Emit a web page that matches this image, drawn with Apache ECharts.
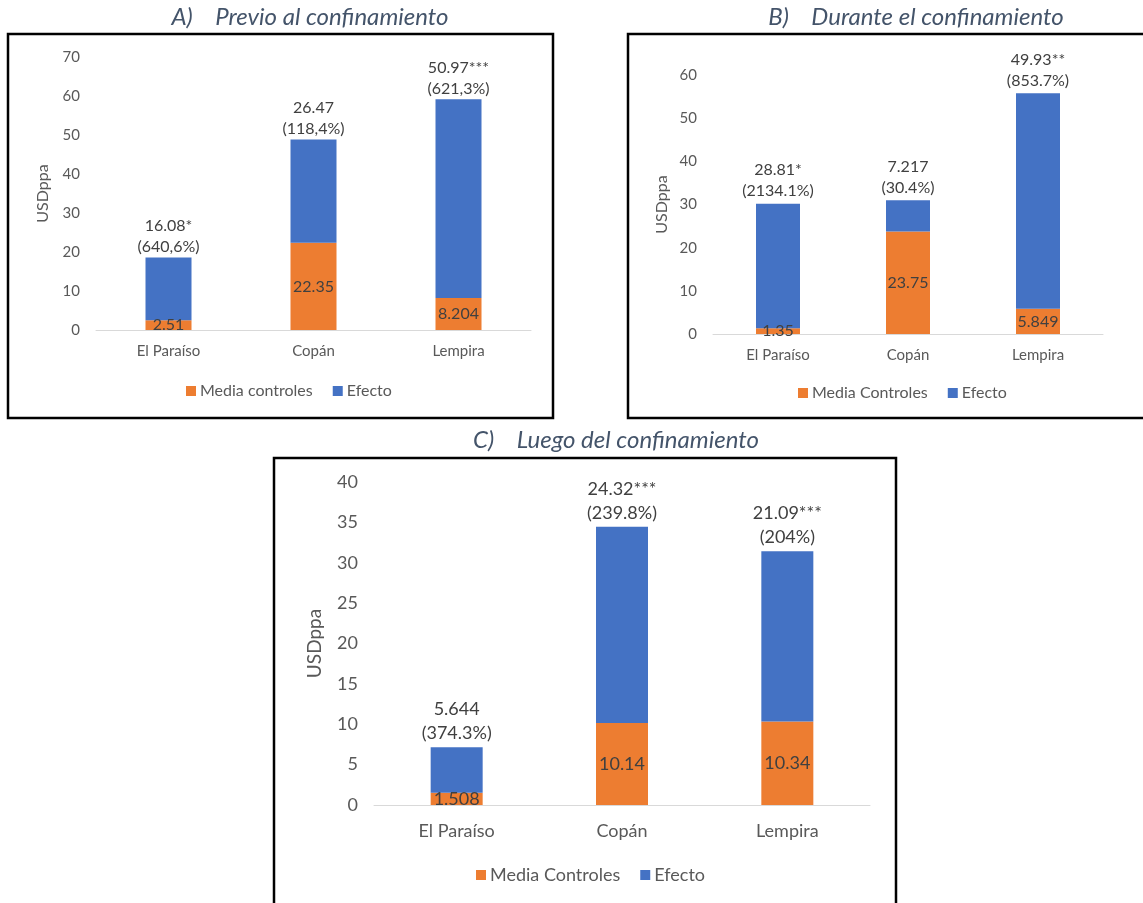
<!DOCTYPE html>
<html>
<head>
<meta charset="utf-8">
<script src="https://cdn.jsdelivr.net/npm/echarts@6/dist/echarts.min.js"></script>
<style>
  html, body { margin: 0; padding: 0; background: #ffffff; }
  #chart { width: 1143px; height: 903px; }
</style>
</head>
<body>
<div id="chart"></div>
<script>
// ---- Data ----
const categories = ['El Paraíso', 'Copán', 'Lempira'];

const titleA = 'A)    Previo al confinamiento';
const titleB = 'B)    Durante el confinamiento';
const titleC = 'C)    Luego del confinamiento';

const legendControlA = 'Media controles';
const legendControlBC = 'Media Controles';
const legendEffect = 'Efecto';
const yAxisName = 'USDppa';

const controlA = [2.51, 22.35, 8.204];
const effectA = [16.08, 26.47, 50.97];
const starsA = ['*', '', '***'];
const pctA = ['640,6%', '118,4%', '621,3%'];

const controlB = [1.35, 23.75, 5.849];
const effectB = [28.81, 7.217, 49.93];
const starsB = ['*', '', '**'];
const pctB = ['2134.1%', '30.4%', '853.7%'];

const controlC = [1.508, 10.14, 10.34];
const effectC = [5.644, 24.32, 21.09];
const starsC = ['', '***', '***'];
const pctC = ['374.3%', '239.8%', '204%'];

const yMaxA = 70, yIntA = 10;
const yMaxB = 60, yIntB = 10;
const yMaxC = 40, yIntC = 5;

// ---- Styles ----
const ORANGE = '#ED7D31';
const BLUE = '#4472C4';
const AXIS_TXT = '#595959';
const LBL_TXT = '#404040';
const TITLE_CLR = '#44546A';
const FONT = 'Lato, "Open Sans", sans-serif';

const chart = echarts.init(document.getElementById('chart'), null, { renderer: 'canvas' });

function xAx(gi, fs, margin) {
  return {
    type: 'category', gridIndex: gi, data: categories,
    axisTick: { show: false },
    axisLine: { lineStyle: { color: '#D9D9D9', width: 1 } },
    axisLabel: { color: AXIS_TXT, fontSize: fs, fontFamily: FONT, margin: margin }
  };
}
function yAx(gi, max, interval, fs, nfs, gap) {
  return {
    type: 'value', gridIndex: gi, min: 0, max: max, interval: interval,
    splitLine: { show: false },
    axisLine: { show: false }, axisTick: { show: false },
    axisLabel: { color: AXIS_TXT, fontSize: fs, fontFamily: FONT, margin: 16 },
    name: yAxisName, nameLocation: 'middle', nameRotate: 90, nameGap: gap,
    nameTextStyle: { color: AXIS_TXT, fontSize: nfs, fontFamily: FONT }
  };
}
function ctrlSeries(name, data, idx, stack, fs, bw) {
  return {
    type: 'bar', name: name, data: data, xAxisIndex: idx, yAxisIndex: idx, stack: stack,
    barWidth: bw, itemStyle: { color: ORANGE },
    label: { show: true, position: 'inside', color: LBL_TXT, fontSize: fs, fontFamily: FONT,
      formatter: p => String(data[p.dataIndex]) }
  };
}
function effSeries(data, stars, pct, idx, stack, fs, lh, dist, bw) {
  return {
    type: 'bar', name: legendEffect, data: data, xAxisIndex: idx, yAxisIndex: idx, stack: stack,
    barWidth: bw, itemStyle: { color: BLUE },
    label: { show: true, position: 'top', distance: dist, color: LBL_TXT, fontSize: fs, fontFamily: FONT,
      lineHeight: lh,
      formatter: p => data[p.dataIndex] + stars[p.dataIndex] + '\n(' + pct[p.dataIndex] + ')' }
  };
}
function legend(names, left, top, fs) {
  return {
    data: names, left: left, top: top, icon: 'rect', itemWidth: 10, itemHeight: 10, itemGap: 20,
    itemStyle: { borderWidth: 0 },
    selectedMode: false,
    textStyle: { color: AXIS_TXT, fontSize: fs, fontFamily: FONT, padding: [0, 0, 0, -1] }
  };
}
function ttl(text, x, y, fs) {
  return { text: text, left: x, top: y, textAlign: 'center',
    textStyle: { color: TITLE_CLR, fontSize: fs, fontStyle: 'italic', fontWeight: 'normal', fontFamily: FONT } };
}

const option = {
  backgroundColor: '#ffffff',
  animation: false,
  title: [
    ttl(titleA, 305, 0, 24),
    ttl(titleB, 911, 0, 24),
    ttl(titleC, 611, 423, 24)
  ],
  grid: [
    { left: 96, top: 57, width: 435, height: 273 },
    { left: 713, top: 75, width: 390, height: 259 },
    { left: 374, top: 482, width: 496, height: 323 }
  ],
  xAxis: [xAx(0, 15, 14), xAx(1, 15, 14), xAx(2, 18, 17)],
  yAxis: [yAx(0, yMaxA, yIntA, 15, 16, 45), yAx(1, yMaxB, yIntB, 15, 16, 43), yAx(2, yMaxC, yIntC, 18, 19, 50)],
  legend: [
    legend([legendControlA, legendEffect], 181, 378, 16),
    legend([legendControlBC, legendEffect], 793, 380, 16),
    legend([legendControlBC, legendEffect], 471, 861, 18)
  ],
  series: [
    ctrlSeries(legendControlA, controlA, 0, 'a', 16, 46),
    effSeries(effectA, starsA, pctA, 0, 'a', 16, 21, 0, 46),
    ctrlSeries(legendControlBC, controlB, 1, 'b', 16, 44),
    effSeries(effectB, starsB, pctB, 1, 'b', 16, 21, 2, 44),
    ctrlSeries(legendControlBC, controlC, 2, 'c', 18, 52),
    effSeries(effectC, starsC, pctC, 2, 'c', 18, 24, 2, 52)
  ],
  graphic: [
    { type: 'rect', shape: { x: 8, y: 34, width: 545, height: 384 }, style: { fill: null, stroke: '#000', lineWidth: 2.5 }, silent: true },
    { type: 'rect', shape: { x: 628, y: 34, width: 540, height: 384 }, style: { fill: null, stroke: '#000', lineWidth: 2.5 }, silent: true },
    { type: 'rect', shape: { x: 274, y: 458, width: 622, height: 460 }, style: { fill: null, stroke: '#000', lineWidth: 2.5 }, silent: true }
  ]
};
chart.setOption(option);
</script>
</body>
</html>
